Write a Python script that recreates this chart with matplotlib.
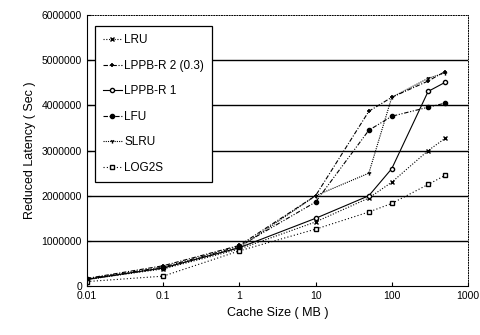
import matplotlib
matplotlib.use("Agg")
import matplotlib.pyplot as plt

plt.rcParams['font.family'] = ['Liberation Sans', 'DejaVu Sans']

cache_mb = [0.01, 0.1, 1, 10, 50, 100, 300, 500]
lru = [150000, 380000, 820000, 1420000, 1950000, 2300000, 3000000, 3270000]
lppb2 = [170000, 450000, 900000, 2000000, 3870000, 4180000, 4540000, 4750000]
lppb1 = [150000, 400000, 850000, 1500000, 2000000, 2600000, 4310000, 4510000]
lfu = [160000, 420000, 880000, 1860000, 3450000, 3760000, 3960000, 4050000]
slru = [140000, 400000, 850000, 2000000, 2500000, 4180000, 4600000, 4720000]
log2s = [100000, 220000, 780000, 1260000, 1640000, 1830000, 2250000, 2450000]

yticks = [0, 1000000, 2000000, 3000000, 4000000, 5000000, 6000000]
xticks = [0.01, 0.1, 1, 10, 100, 1000]
xticklabels = ['0.01', '0.1', '1', '10', '100', '1000']

fig = plt.figure(figsize=(4.8, 3.35), dpi=100)
ax = fig.add_axes([0.181, 0.146, 0.794, 0.809])

for y in yticks[1:-1]:
    ax.axhline(y, color='black', lw=1.0, zorder=0)

kw = dict(color='black', lw=0.8, markersize=3.0)
ax.plot(cache_mb, lru, linestyle=(0, (1, 1.5)), marker='x', label='LRU', **kw)
ax.plot(cache_mb, lppb2, linestyle=(0, (4, 1.5, 1, 1.5)), marker='+', markeredgewidth=1.2,
        label='LPPB-R 2 (0.3)', **kw)
ax.plot(cache_mb, lppb1, linestyle='-', marker='o', markerfacecolor='white',
        label='LPPB-R 1', **kw)
ax.plot(cache_mb, lfu, linestyle=(0, (4, 1.5, 1, 1.5, 1, 1.5)), marker='o',
        markerfacecolor='black', label='LFU', **kw)
ax.plot(cache_mb, slru, linestyle=(0, (1, 1)), marker='1', label='SLRU', **kw)
ax.plot(cache_mb, log2s, linestyle=(0, (1, 2)), marker='s', markerfacecolor='white',
        label='LOG2S', **kw)

ax.set_xscale('log')
ax.set_xlim(0.01, 1000)
ax.set_ylim(0, 6000000)
ax.set_xticks(xticks)
ax.set_xticklabels(xticklabels)
ax.minorticks_off()
ax.set_yticks(yticks)
ax.set_yticklabels([str(v) for v in yticks])
ax.tick_params(labelsize=7.5, length=3, direction='in')

ax.spines['top'].set_linestyle(':')
ax.spines['right'].set_linestyle(':')
ax.spines['top'].set_linewidth(0.7)
ax.spines['right'].set_linewidth(0.7)

ax.set_xlabel('Cache Size ( MB )', fontsize=9)
ax.set_ylabel('Reduced Latency ( Sec )', fontsize=9)

leg = ax.legend(loc='upper left', bbox_to_anchor=(0.02, 0.96), fontsize=8.5,
                frameon=True, fancybox=False, edgecolor='black', framealpha=1,
                handlelength=1.6, labelspacing=1.15, borderpad=0.7, handletextpad=0.2,
                borderaxespad=0.0)
leg.get_frame().set_linewidth(0.9)

fig.savefig('out.png', dpi=100)
